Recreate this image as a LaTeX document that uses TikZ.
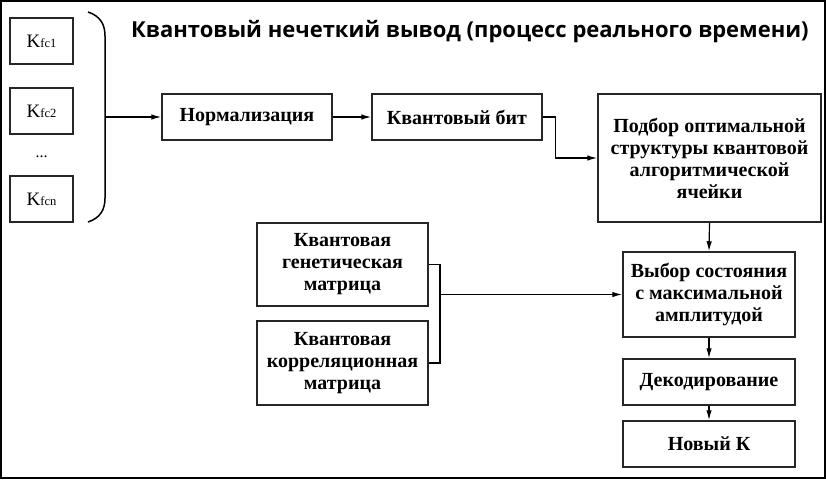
\documentclass[tikz,border=0pt]{standalone}
\usepackage{fontspec}
\setmainfont{Liberation Serif}
\newfontfamily\titlefont{Open Sans}
\usetikzlibrary{arrows.meta}
\tikzset{
  box/.style={draw=black!85, line width=1.5pt, fill=white, align=center, inner sep=2pt,
    font=\bfseries\fontsize{20}{22}\selectfont},
  kbox/.style={draw=black!85, line width=1.5pt, minimum width=63pt, minimum height=46pt, inner sep=0pt},
  conn/.style={draw=black, line width=1.2pt},
  arr/.style={conn, -{Latex[length=10pt,width=5.5pt]}},
}
\newcommand{\kfc}[1]{{\fontsize{19}{19}\selectfont K}{\fontsize{12.5}{12.5}\selectfont fc#1}}
\begin{document}
\begin{tikzpicture}[x=1pt,y=-1pt]
\useasboundingbox (0,0) rectangle (826,479);
\draw[line width=2pt, black] (1,1) rectangle (825,478);
% title
\node[anchor=base west, inner sep=0pt, font=\titlefont\bfseries\fontsize{22}{24}\selectfont] (title) at (131,37)
  {Квантовый нечеткий вывод (процесс реального времени)};
% K boxes
\node[kbox] (k1) at (41.5,41) {\kfc{1}};
\node[kbox] (k2) at (41.5,111) {\kfc{2}};
\node[font=\fontsize{16}{16}\selectfont] (dots) at (41.5,157) {...};
\node[kbox] (kn) at (41.5,199) {\kfc{n}};
% brace
\draw[conn, line width=1.5pt] (88,12) .. controls (100,16) and (105,24) .. (105,36)
  -- (105,198) .. controls (105,210) and (100,218) .. (88,222);
\coordinate (brc) at (105,117);
% boxes
\node[box, minimum width=170pt, minimum height=46pt] (norm) at (247,117) {Нормализация};
\node[box, minimum width=170pt, minimum height=46pt] (qbit) at (457,117) {Квантовый бит};
\node[box, minimum width=223pt, minimum height=128pt] (podbor) at (709.5,158)
  {Подбор оптимальной\\структуры квантовой\\алгоритмической\\ячейки};
\node[box, minimum width=172pt, minimum height=85pt] (vybor) at (709,294.5)
  {Выбор состояния\\с максимальной\\амплитудой};
\node[box, minimum width=172pt, minimum height=46pt] (dekod) at (709,382) {Декодирование};
\node[box, minimum width=172pt, minimum height=46pt] (novy) at (709,444) {Новый К};
\node[box, minimum width=171pt, minimum height=83pt] (gen) at (342.5,264.5)
  {Квантовая\\генетическая\\матрица};
\node[box, minimum width=171pt, minimum height=84pt] (corr) at (342.5,363)
  {Квантовая\\корреляционная\\матрица};
% connectors
\draw[arr] (brc) -- (norm.west);
\draw[arr] (norm) -- (qbit);
\draw[arr] (qbit.east) -- ++(13,0) |- (podbor.west);
\draw[arr] (podbor.south) -- (vybor.north);
\draw[arr] (vybor) -- (dekod);
\draw[arr] (dekod) -- (novy);
\coordinate (j) at (440,294.5);
\draw[conn] (gen.east) -| (j) |- (corr.east);
\draw[arr] (j) -- (vybor.west);
\end{tikzpicture}
\end{document}
